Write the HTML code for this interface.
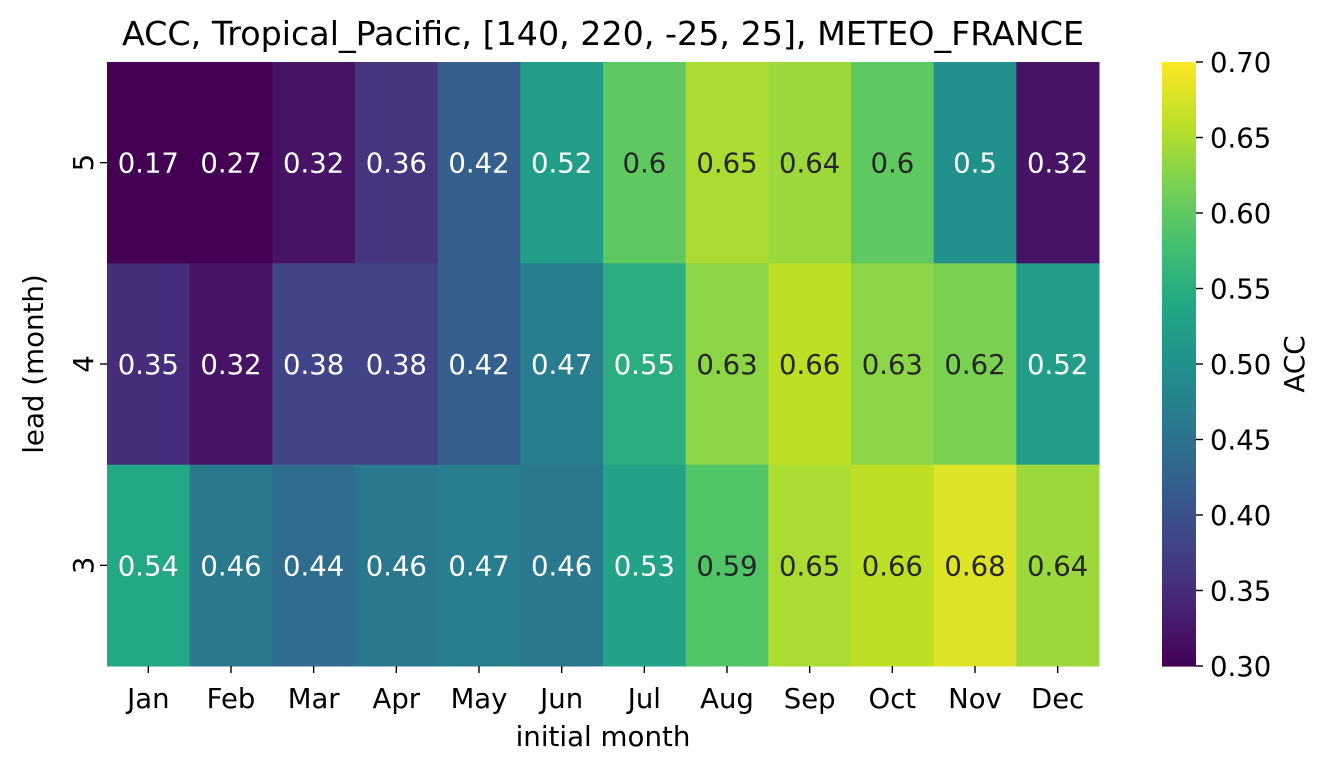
<!DOCTYPE html>
<html><head><meta charset="utf-8"><style>
body{margin:0;background:#fff}
svg{display:block;font-family:"DejaVu Sans","Liberation Sans",sans-serif}
</style></head><body>
<svg id="chart" width="1331" height="773" viewBox="0 0 1331 773" xmlns="http://www.w3.org/2000/svg">
<rect width="1331" height="773" fill="#fff"/>
<text x="603" y="45" font-size="33.3" text-anchor="middle" fill="#000">ACC, Tropical_Pacific, [140, 220, -25, 25], METEO_FRANCE</text>
<g id="cells"></g><g id="xaxis"></g><g id="yaxis"></g><g id="cbar"></g>
<text x="603" y="746" font-size="27.7" text-anchor="middle">initial month</text>
<text transform="translate(43,364) rotate(-90)" font-size="27.7" text-anchor="middle">lead (month)</text>
<text transform="translate(1304,364) rotate(-90)" font-size="27.7" text-anchor="middle">ACC</text>
</svg>
<script>
const months=["Jan","Feb","Mar","Apr","May","Jun","Jul","Aug","Sep","Oct","Nov","Dec"];
const leads=["5","4","3"];
const lead5=[0.17,0.27,0.32,0.36,0.42,0.52,0.6,0.65,0.64,0.6,0.5,0.32];
const lead4=[0.35,0.32,0.38,0.38,0.42,0.47,0.55,0.63,0.66,0.63,0.62,0.52];
const lead3=[0.54,0.46,0.44,0.46,0.47,0.46,0.53,0.59,0.65,0.66,0.68,0.64];
const cbTicks=[0.30,0.35,0.40,0.45,0.50,0.55,0.60,0.65,0.70];
const vmin=0.3,vmax=0.7;
const NS="http://www.w3.org/2000/svg";
const X0=107,X1=1099,Y0=62,Y1=666;
const FS=27.5;
const cw=(X1-X0)/months.length,rh=(Y1-Y0)/leads.length;
const xs=i=>X0+i*cw, ys=j=>Y0+j*rh;
const stops=["#440154","#482475","#414487","#355f8d","#2a788e","#21918c","#22a884","#44bf70","#7ad151","#bddf26","#fde725"];
function hex(h){return [1,3,5].map(i=>parseInt(h.substr(i,2),16));}
function cmap(v){let t=Math.max(0,Math.min(1,(v-vmin)/(vmax-vmin)))*(stops.length-1);let i=Math.min(Math.floor(t),stops.length-2),f=t-i;
const a=hex(stops[i]),b=hex(stops[i+1]);return a.map((c,k)=>Math.round(c+(b[k]-c)*f));}
function mk(tag,attrs,parent){const e=document.createElementNS(NS,tag);for(const k in attrs)e.setAttribute(k,attrs[k]);parent.appendChild(e);return e;}
const rows=[lead5,lead4,lead3];
const cells=document.getElementById('cells');
rows.forEach((row,j)=>row.forEach((v,i)=>{
 const c=cmap(v);
 const r=mk('rect',{x:xs(i),y:ys(j),width:cw+0.5,height:rh+0.5,fill:`rgb(${c})`},cells);
 
 
 const lum=c.map(x=>{x/=255;return x<=0.03928?x/12.92:Math.pow((x+0.055)/1.055,2.4)});
 const L=0.2126*lum[0]+0.7152*lum[1]+0.0722*lum[2];
 const t=mk('text',{x:xs(i)+cw/2,y:ys(j)+rh/2+10,'font-size':FS,'text-anchor':'middle',fill:L>0.408?'#262626':'#fff'},cells);
 
 
 t.textContent=String(v);
}));
const xa=document.getElementById('xaxis');
months.forEach((m,i)=>{const cx=xs(i)+cw/2;
 mk('line',{x1:cx,x2:cx,y1:Y1,y2:Y1+7,stroke:'#000','stroke-width':1.4},xa);
 const t=mk('text',{x:cx,y:708,'font-size':FS,'text-anchor':'middle'},xa);
 
 
 t.textContent=m;});
const ya=document.getElementById('yaxis');
leads.forEach((l,j)=>{const cy=ys(j)+rh/2;
 mk('line',{x1:X0-7,x2:X0,y1:cy,y2:cy,stroke:'#000','stroke-width':1.4},ya);
 const t=mk('text',{transform:`translate(${X0-14},${cy}) rotate(-90)`,'font-size':FS,'text-anchor':'middle'},ya);
 
 
 t.textContent=l;});
const cb=document.getElementById('cbar');
const CX=1162,CW=34,N=200;
for(let k=0;k<N;k++){const v=vmin+(vmax-vmin)*(k+0.5)/N;const c=cmap(v);
 const y=Y1-(k+1)*(Y1-Y0)/N;
 const r=mk('rect',{x:CX,y:y,width:CW,height:(Y1-Y0)/N+0.6,fill:`rgb(${c})`},cb);
 
 }
const cys=v=>Y1-(v-vmin)/(vmax-vmin)*(Y1-Y0);
cbTicks.forEach(v=>{const y=cys(v);
 mk('line',{x1:CX+CW,x2:CX+CW+7,y1:y,y2:y,stroke:'#000','stroke-width':1.4},cb);
 const t=mk('text',{x:CX+CW+14,y:y+10,'font-size':FS},cb);
 
 
 t.textContent=v.toFixed(2);});
</script>
</body></html>
